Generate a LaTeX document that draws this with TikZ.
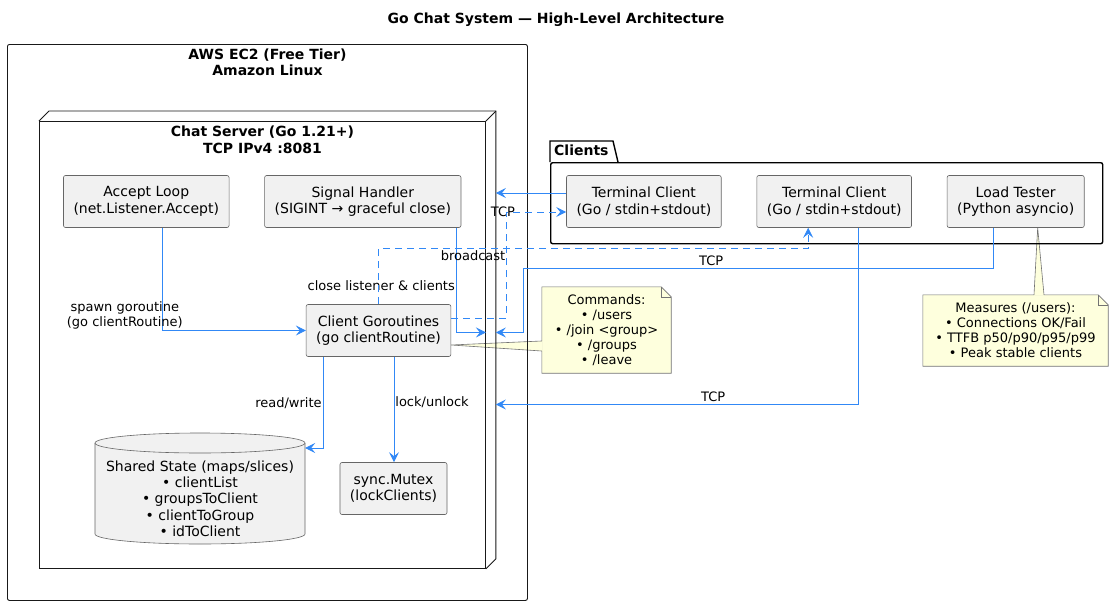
\documentclass[tikz,border=0pt]{standalone}
\usepackage{fontspec}
\setmainfont{DejaVu Sans}
\usepackage{tikz}
\usetikzlibrary{arrows.meta,backgrounds}

\definecolor{linkblue}{RGB}{49,136,246}
\definecolor{boxfill}{RGB}{241,241,241}
\definecolor{notefill}{RGB}{254,255,221}

\begin{document}
\begin{tikzpicture}[
  x=1pt,y=-1pt,
  every matrix/.style={ampersand replacement=\&,column sep=35pt,inner sep=0pt},
  block/.style={draw=black!60,line width=0.6pt,fill=boxfill,rounded corners=2pt,inner xsep=10pt,inner ysep=3pt,minimum height=52pt,align=center,font=\fontsize{14}{16.3}\selectfont},
  frame/.style={draw=black!90,line width=0.9pt},
  package/.style={draw=black,line width=1.4pt},
  heading/.style={inner sep=0pt,align=center,font=\bfseries\fontsize{14}{16.3}\selectfont},
  note/.style={inner sep=0pt,align=center,font=\fontsize{13}{15}\selectfont},
  notebox/.style={draw=black!55,line width=0.6pt,fill=notefill},
  lbl/.style={inner sep=1pt,align=center,text=black,font=\fontsize{13}{15}\selectfont},
  to/.style={-{Stealth[length=10pt,width=10pt,inset=4pt]},linkblue,line width=0.8pt},
  dashto/.style={to,dash pattern=on 7pt off 5pt}]

  \begin{scope}[on background layer]
    \fill[white] (0,0) rectangle (1112,605);
  \end{scope}
  \useasboundingbox (0,0) rectangle (1112,605);

  \node[heading,anchor=north] (title) at (556,12.5) {Go Chat System — High-Level Architecture};

  % EC2 host and the server node
  \node[frame,rounded corners=2pt,minimum width=520pt,minimum height=556pt,anchor=north west] (aws) at (7,44) {};
  \node[heading,anchor=north] (awslbl) at ([yshift=-4.5pt]aws.north) {AWS EC2 (Free Tier)\\Amazon Linux};

  \node[frame,minimum width=446pt,minimum height=447pt,anchor=north west] (srv) at (39,121) {};
  \draw[frame] (srv.north west) -- ++(10pt,10pt) -| ([shift={(10pt,10pt)}]srv.south east) -- (srv.south east);
  \draw[frame] (srv.north east) -- ++(10pt,10pt);
  \node[heading,anchor=north] (srvlbl) at ([yshift=-5pt]srv.north) {Chat Server (Go 1.21+)\\TCP IPv4 :8081};
  \coordinate (srvedge) at ([xshift=10pt]srv.east);

  % server parts
  \matrix (inner) [anchor=west] at (63,201.5) {
    \node[block] (acc) {Accept Loop\\(net.Listener.Accept)};
      \& \node[block] (sig) {Signal Handler\\(SIGINT → graceful close)}; \\
  };
  \node[block] (cg) at (378.5,330.5) {Client Goroutines\\(go clientRoutine)};
  \node[block,minimum width=107pt] (mtx) at (393.5,488.5) {sync.Mutex\\(lockClients)};

  \draw[draw=black!60,line width=0.6pt,fill=boxfill] (95,443) -- (95,534)
    arc[start angle=180,end angle=360,x radius=105pt,y radius=10pt] -- (305,443)
    arc[start angle=0,end angle=180,x radius=105pt,y radius=10pt] -- cycle;
  \draw[draw=black!60,line width=0.6pt] (95,443) arc[start angle=180,end angle=360,x radius=105pt,y radius=10pt];
  \node[lbl,inner sep=0pt,minimum width=210pt,font=\fontsize{14}{16.3}\selectfont] (state) at (200,498.5)
    {Shared State (maps/slices)\\• clientList\\• groupsToClient\\• clientToGroup\\• idToClient};

  % clients package
  \node[package,rounded corners=2pt,minimum width=552pt,minimum height=81pt,anchor=north west] (pkg) at (550,162) {};
  \draw[package] (pkg.north west) |- ([xshift=63pt,yshift=21pt]pkg.north west) -- ([xshift=68pt]pkg.north west);
  \node[heading,anchor=base west] (pkglbl) at ([xshift=4pt,yshift=6.5pt]pkg.north west) {Clients};
  \matrix (clients) [anchor=west] at (566,201.5) {
    \node[block] (tc1) {Terminal Client\\(Go / stdin+stdout)};
      \& \node[block] (tc2) {Terminal Client\\(Go / stdin+stdout)};
      \& \node[block] (lt) {Load Tester\\(Python asyncio)}; \\
  };

  % notes
  \node[note,minimum width=129pt,minimum height=86pt] (cmds) at (606.5,330) {Commands:\\• /users\\• /join <group>\\• /groups\\• /leave};
  \node[note,minimum width=185pt,minimum height=71pt] (meas) at (1015.5,330.5) {Measures (/users):\\• Connections OK/Fail\\• TTFB p50/p90/p95/p99\\• Peak stable clients};
  \begin{scope}[on background layer]
    \filldraw[notebox] (cmds.north west) -- ([xshift=-10pt]cmds.north east) -- ([yshift=-10pt]cmds.north east) -- (cmds.south east) -- (cmds.south west) -- cycle;
    \draw[notebox,fill=none] ([xshift=-10pt]cmds.north east) |- ([yshift=-10pt]cmds.north east);
    \fill[notefill] ([yshift=-14.5pt]cg.east) -- ([xshift=0.8pt,yshift=-11pt]cmds.west) -- ([xshift=0.8pt,yshift=-21pt]cmds.west) -- cycle;
    \draw[notebox,fill=none] ([yshift=-11pt]cmds.west) -- ([yshift=-14.5pt]cg.east) -- ([yshift=-21pt]cmds.west);
    \filldraw[notebox] (meas.north west) -- ([xshift=-10pt]meas.north east) -- ([yshift=-10pt]meas.north east) -- (meas.south east) -- (meas.south west) -- cycle;
    \draw[notebox,fill=none] ([xshift=-10pt]meas.north east) |- ([yshift=-10pt]meas.north east);
    \fill[notefill] ([xshift=22pt]lt.south) -- ([xshift=18.5pt,yshift=-0.8pt]meas.north) -- ([xshift=28.5pt,yshift=-0.8pt]meas.north) -- cycle;
    \draw[notebox,fill=none] ([xshift=18.5pt]meas.north) -- ([xshift=22pt]lt.south) -- ([xshift=28.5pt]meas.north);
  \end{scope}

  % connectors inside the server
  \draw[to] ([xshift=16.5pt]acc.south) |- node[lbl,pos=0.425,xshift=-38pt] {spawn goroutine\\(go clientRoutine)} (cg.west);
  \draw[to] ([xshift=-5pt]sig.south east) |- node[lbl,pos=0.276,left=0pt] {close listener \& clients} ([yshift=12.5pt]srv.east);
  \draw[to] ([xshift=-55.5pt]cg.south) |- node[lbl,pos=0.253,left=0pt] {read/write} ([yshift=50.5pt]state.east);
  \draw[to] ([xshift=15.5pt]cg.south) -- node[lbl,pos=0.43,right=0pt] {lock/unlock} ([xshift=15.5pt]cg.south |- mtx.north);

  % connectors to and from the clients
  \draw[to] ([yshift=8.5pt]tc1.west) -- node[lbl,pos=0.9,below=12pt] {TCP} ([yshift=8.5pt]tc1.west -| srvedge);
  \draw[dashto] ([yshift=12.5pt]cg.east) -| ([xshift=-60pt,yshift=-10.5pt]tc1.west) -- ([yshift=-10.5pt]tc1.west);
  \draw[dashto] (cg.north) |- node[lbl,pos=0.61,below=0pt] {broadcast} ([xshift=-26pt,yshift=-21pt]tc2.south) -- ([xshift=-26pt]tc2.south);
  \draw[to] ([xshift=-22pt]lt.south) |- node[lbl,pos=0.8,above=1pt] {TCP} (523,268) |- ([yshift=12.5pt]srvedge);
  \draw[to] ([xshift=24pt]tc2.south) |- node[lbl,pos=0.7,above=1pt] {TCP} ([yshift=-59.5pt]srvedge);
\end{tikzpicture}
\end{document}
